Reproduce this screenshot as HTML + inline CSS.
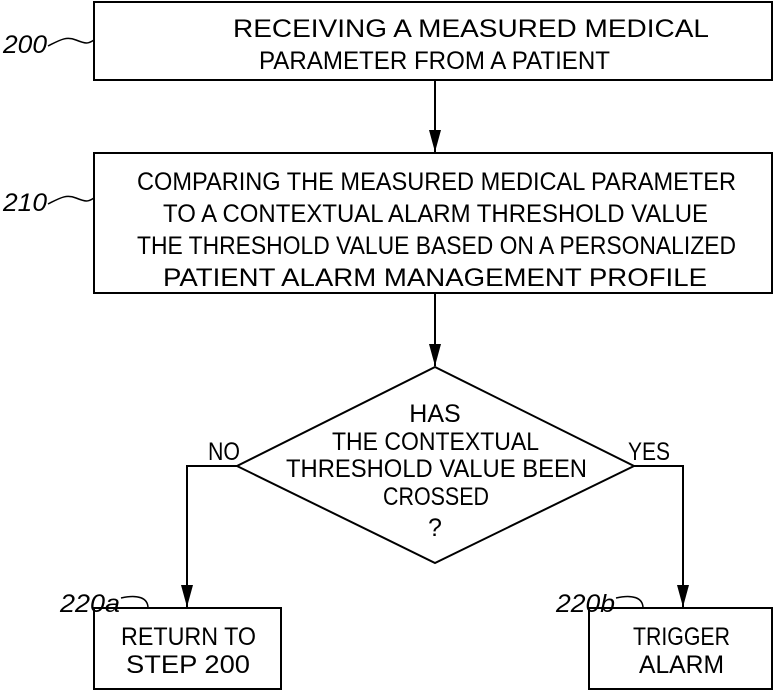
<!DOCTYPE html>
<html><head><meta charset="utf-8"><style>html,body{margin:0;padding:0;background:#fff}svg{display:block}</style></head>
<body>
<svg width="777" height="690" viewBox="0 0 777 690" xmlns="http://www.w3.org/2000/svg" font-family="Liberation Sans, sans-serif" font-size="25" fill="#000">
<defs><marker id="a" markerWidth="22" markerHeight="12" refX="22" refY="6" orient="auto" markerUnits="userSpaceOnUse"><path d="M0,0 L22,6 L0,12 Z" fill="#000"/></marker></defs>
<g fill="none" stroke="#000" stroke-width="2">
<rect x="94" y="2" width="678" height="78"/>
<rect x="94" y="153" width="678" height="140"/>
<rect x="94" y="608" width="187" height="81"/>
<rect x="589" y="608" width="183" height="81"/>
<polygon points="435,367 634,466 435,563 237,466"/>
<line x1="435" y1="80" x2="435" y2="152" marker-end="url(#a)"/>
<line x1="435" y1="293" x2="435" y2="366" marker-end="url(#a)"/>
<polyline points="237,466 187,466 187,607" marker-end="url(#a)"/>
<polyline points="634,466 683,466 683,607" marker-end="url(#a)"/>
<path d="M48,46 C60,40 66,36 76,40 S88,44 94,40" stroke-width="1.5"/>
<path d="M48,204 C60,198 66,194 76,198 S88,202 94,198" stroke-width="1.5"/>
<path d="M121,598 C138,594 148,598 148,608" stroke-width="1.5"/>
<path d="M616,598 C633,594 643,598 643,608" stroke-width="1.5"/>
</g>
<g stroke="none">
<text x="233" y="37" textLength="476" lengthAdjust="spacingAndGlyphs">RECEIVING A MEASURED MEDICAL</text>
<text x="259" y="69" textLength="351" lengthAdjust="spacingAndGlyphs">PARAMETER FROM A PATIENT</text>
<text x="137" y="190" textLength="599" lengthAdjust="spacingAndGlyphs">COMPARING THE MEASURED MEDICAL PARAMETER</text>
<text x="163" y="222" textLength="545" lengthAdjust="spacingAndGlyphs">TO A CONTEXTUAL ALARM THRESHOLD VALUE</text>
<text x="137" y="254" textLength="599" lengthAdjust="spacingAndGlyphs">THE THRESHOLD VALUE BASED ON A PERSONALIZED</text>
<text x="163" y="286" textLength="544" lengthAdjust="spacingAndGlyphs">PATIENT ALARM MANAGEMENT PROFILE</text>
<text x="435" y="422" text-anchor="middle">HAS</text>
<text x="332" y="450" textLength="207" lengthAdjust="spacingAndGlyphs">THE CONTEXTUAL</text>
<text x="286" y="477" textLength="301" lengthAdjust="spacingAndGlyphs">THRESHOLD VALUE BEEN</text>
<text x="383" y="505" textLength="106" lengthAdjust="spacingAndGlyphs">CROSSED</text>
<text x="435" y="536" text-anchor="middle">?</text>
<text x="208" y="460" textLength="32" lengthAdjust="spacingAndGlyphs">NO</text>
<text x="628" y="460" textLength="42" lengthAdjust="spacingAndGlyphs">YES</text>
<text x="121" y="645" textLength="135" lengthAdjust="spacingAndGlyphs">RETURN TO</text>
<text x="126" y="673" textLength="124" lengthAdjust="spacingAndGlyphs">STEP 200</text>
<text x="633" y="645" textLength="97" lengthAdjust="spacingAndGlyphs">TRIGGER</text>
<text x="639" y="673" textLength="85" lengthAdjust="spacingAndGlyphs">ALARM</text>
<g font-style="italic">
<text x="3" y="53" textLength="44" lengthAdjust="spacingAndGlyphs">200</text>
<text x="3" y="211" textLength="44" lengthAdjust="spacingAndGlyphs">210</text>
<text x="60" y="612" textLength="60" lengthAdjust="spacingAndGlyphs">220a</text>
<text x="556" y="612" textLength="59" lengthAdjust="spacingAndGlyphs">220b</text>
</g>
</g>
</svg>
</body></html>
